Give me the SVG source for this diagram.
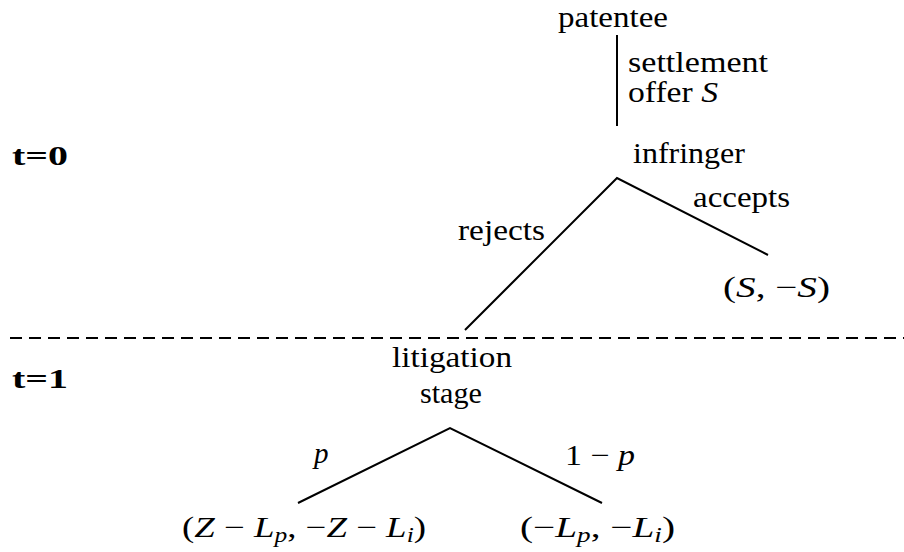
<svg xmlns="http://www.w3.org/2000/svg" width="904" height="552" viewBox="0 0 904 552">
<style>
text { font-family: "Liberation Serif", "Times New Roman", serif; font-size: 29px; fill: #000; }
.it { font-style: italic; }
.b { font-weight: bold; font-size: 28px; }
.sub { font-size: 20px; font-style: italic; }
.edge { stroke: #000; stroke-width: 2; fill: none; }
.dash { stroke: #000; stroke-width: 2; stroke-dasharray: 12 7; fill: none; }
</style>
<rect width="904" height="552" fill="#fff"/>
<g id="connectors">
  <path class="edge" d="M617 35 V126"/>
  <path class="edge" d="M465 330 L617 178 L768 255"/>
  <path class="edge" d="M298 503 L450 428 L602 503"/>
  <path class="dash" d="M10 338 H904"/>
</g>
<g id="labels">
  <text x="628" y="72" textLength="140" lengthAdjust="spacingAndGlyphs">settlement</text>
  <text x="628" y="102" textLength="90" lengthAdjust="spacingAndGlyphs">offer <tspan class="it">S</tspan></text>
  <text x="693" y="207" textLength="97" lengthAdjust="spacingAndGlyphs">accepts</text>
  <text x="458" y="240" textLength="87" lengthAdjust="spacingAndGlyphs">rejects</text>
  <text x="314" y="463" class="it">p</text>
  <text x="565" y="465" textLength="70" lengthAdjust="spacingAndGlyphs">1 − <tspan class="it">p</tspan></text>
</g>
<g id="node-patentee">
  <text x="613" y="27" text-anchor="middle" textLength="110" lengthAdjust="spacingAndGlyphs">patentee</text>
</g>
<g id="node-infringer">
  <text x="633" y="163" textLength="112" lengthAdjust="spacingAndGlyphs">infringer</text>
</g>
<g id="node-accept-payoff">
  <text x="723" y="297" textLength="107" lengthAdjust="spacingAndGlyphs">(<tspan class="it">S</tspan>, −<tspan class="it">S</tspan>)</text>
</g>
<g id="node-litigation">
  <text x="452" y="367" text-anchor="middle" textLength="120" lengthAdjust="spacingAndGlyphs">litigation</text>
  <text x="451" y="403" text-anchor="middle" textLength="62" lengthAdjust="spacingAndGlyphs">stage</text>
</g>
<g id="node-win">
  <text x="182" y="537" textLength="244" lengthAdjust="spacingAndGlyphs">(<tspan class="it">Z</tspan> − <tspan class="it">L</tspan><tspan class="sub" dy="5">p</tspan><tspan dy="-5">, −</tspan><tspan class="it">Z</tspan> − <tspan class="it">L</tspan><tspan class="sub" dy="5">i</tspan><tspan dy="-5">)</tspan></text>
</g>
<g id="node-lose">
  <text x="520" y="537" textLength="155" lengthAdjust="spacingAndGlyphs">(−<tspan class="it">L</tspan><tspan class="sub" dy="5">p</tspan><tspan dy="-5">, −</tspan><tspan class="it">L</tspan><tspan class="sub" dy="5">i</tspan><tspan dy="-5">)</tspan></text>
</g>
<g id="time-labels">
  <text x="12" y="165" class="b" textLength="56" lengthAdjust="spacingAndGlyphs">t=0</text>
  <text x="12" y="388" class="b" textLength="56" lengthAdjust="spacingAndGlyphs">t=1</text>
</g>
</svg>
